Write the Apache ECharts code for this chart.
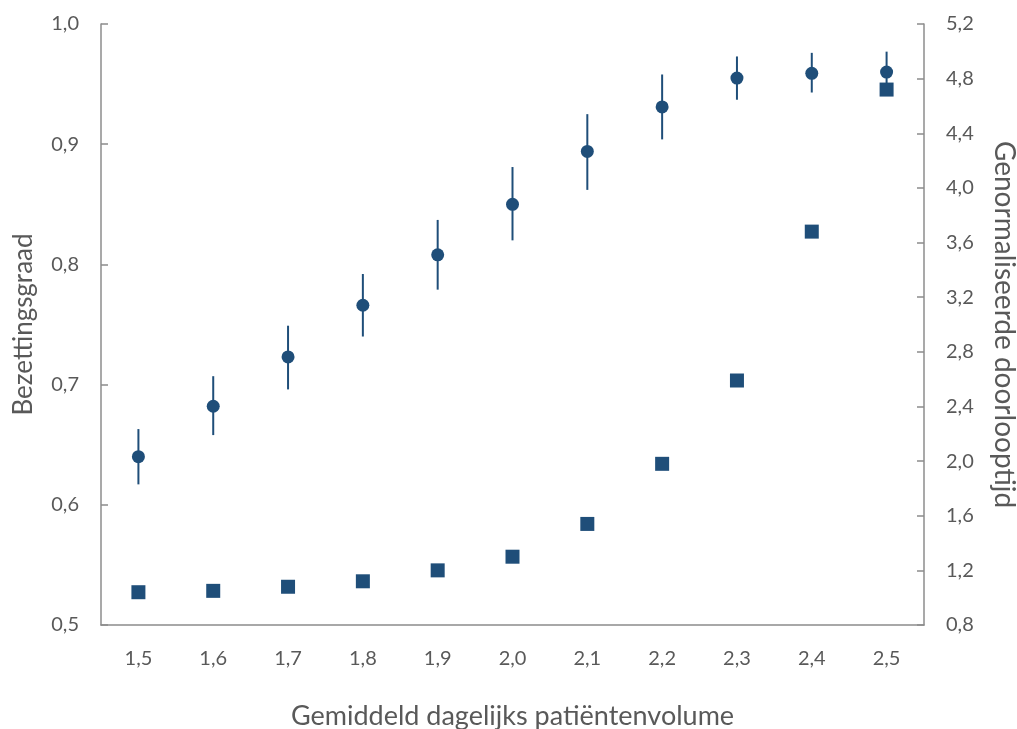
<!DOCTYPE html>
<html>
<head>
<meta charset="utf-8">
<script src="https://cdn.jsdelivr.net/npm/echarts@6/dist/echarts.min.js"></script>
<style>
  html, body { margin: 0; padding: 0; background: #ffffff; }
  #chart { width: 1017px; height: 729px; }
</style>
</head>
<body>
<div id="chart"></div>
<script>
// Gemiddeld dagelijks patiëntenvolume
const volumes = ['1,5', '1,6', '1,7', '1,8', '1,9', '2,0', '2,1', '2,2', '2,3', '2,4', '2,5'];

// Bezettingsgraad (gemiddelde) met onder- en bovengrens
const occupancy     = [0.640, 0.682, 0.723, 0.766, 0.808, 0.850, 0.894, 0.931, 0.955, 0.959, 0.960];
const occupancyLow  = [0.617, 0.658, 0.696, 0.740, 0.779, 0.820, 0.862, 0.904, 0.937, 0.943, 0.944];
const occupancyHigh = [0.663, 0.707, 0.749, 0.792, 0.837, 0.881, 0.925, 0.958, 0.973, 0.976, 0.977];

// Genormaliseerde doorlooptijd
const throughput = [1.04, 1.05, 1.08, 1.12, 1.20, 1.30, 1.54, 1.98, 2.59, 3.68, 4.72];

const navy = '#1F4E79';
const axisGray = '#8C8C8C';
const textGray = '#595959';
const fontFamily = 'Lato, "Open Sans", sans-serif';
const comma = v => v.toFixed(1).replace('.', ',');

const chart = echarts.init(document.getElementById('chart'));

const errorData = volumes.map((_, i) => [i, occupancyLow[i], occupancyHigh[i]]);

chart.setOption({
  animation: false,
  backgroundColor: '#ffffff',
  textStyle: { fontFamily: fontFamily },
  grid: { left: 101, right: 93, top: 24, bottom: 104, containLabel: false, outerBoundsMode: 'none' },
  xAxis: {
    type: 'category',
    data: volumes,
    boundaryGap: true,
    name: 'Gemiddeld dagelijks patiëntenvolume',
    nameLocation: 'middle',
    nameGap: 78,
    nameTextStyle: { color: textGray, fontSize: 27, fontFamily: fontFamily },
    axisLine: { lineStyle: { color: axisGray, width: 1.5 } },
    axisTick: { inside: true, length: 7, alignWithLabel: false, lineStyle: { color: axisGray, width: 1.5 } },
    axisLabel: { color: textGray, fontSize: 20, margin: 24, fontFamily: fontFamily },
    splitLine: { show: false }
  },
  yAxis: [
    {
      type: 'value',
      min: 0.5, max: 1.0, interval: 0.1,
      name: 'Bezettingsgraad',
      nameLocation: 'middle',
      nameGap: 64,
      nameRotate: 90,
      nameTextStyle: { color: textGray, fontSize: 26, fontFamily: fontFamily },
      axisLine: { show: true, lineStyle: { color: axisGray, width: 1.5 } },
      axisTick: { show: true, inside: true, length: 7, lineStyle: { color: axisGray, width: 1.5 } },
      axisLabel: { color: textGray, fontSize: 20, margin: 22, fontFamily: fontFamily, formatter: comma },
      splitLine: { show: false }
    },
    {
      type: 'value',
      min: 0.8, max: 5.2, interval: 0.4,
      name: 'Genormaliseerde doorlooptijd',
      nameLocation: 'middle',
      nameGap: 66,
      nameRotate: -90,
      nameTextStyle: { color: textGray, fontSize: 28, fontFamily: fontFamily },
      axisLine: { show: true, lineStyle: { color: axisGray, width: 1.5 } },
      axisTick: { show: true, inside: true, length: 7, lineStyle: { color: axisGray, width: 1.5 } },
      axisLabel: { color: textGray, fontSize: 20, margin: 22, fontFamily: fontFamily, formatter: comma },
      splitLine: { show: false }
    }
  ],
  series: [
    {
      name: 'Spreiding bezettingsgraad',
      type: 'custom',
      yAxisIndex: 0,
      data: errorData,
      encode: { x: 0, y: [1, 2] },
      z: 2,
      renderItem: function (params, api) {
        const lo = api.coord([api.value(0), api.value(1)]);
        const hi = api.coord([api.value(0), api.value(2)]);
        return {
          type: 'line',
          shape: { x1: lo[0], y1: lo[1], x2: hi[0], y2: hi[1] },
          style: { stroke: navy, lineWidth: 2 }
        };
      }
    },
    {
      name: 'Bezettingsgraad',
      type: 'scatter',
      yAxisIndex: 0,
      data: occupancy,
      symbol: 'circle',
      symbolSize: 13,
      itemStyle: { color: navy, opacity: 1 },
      z: 3
    },
    {
      name: 'Genormaliseerde doorlooptijd',
      type: 'scatter',
      yAxisIndex: 1,
      data: throughput,
      symbol: 'rect',
      symbolSize: 14,
      itemStyle: { color: navy, opacity: 1 },
      z: 4
    }
  ]
});
</script>
</body>
</html>
